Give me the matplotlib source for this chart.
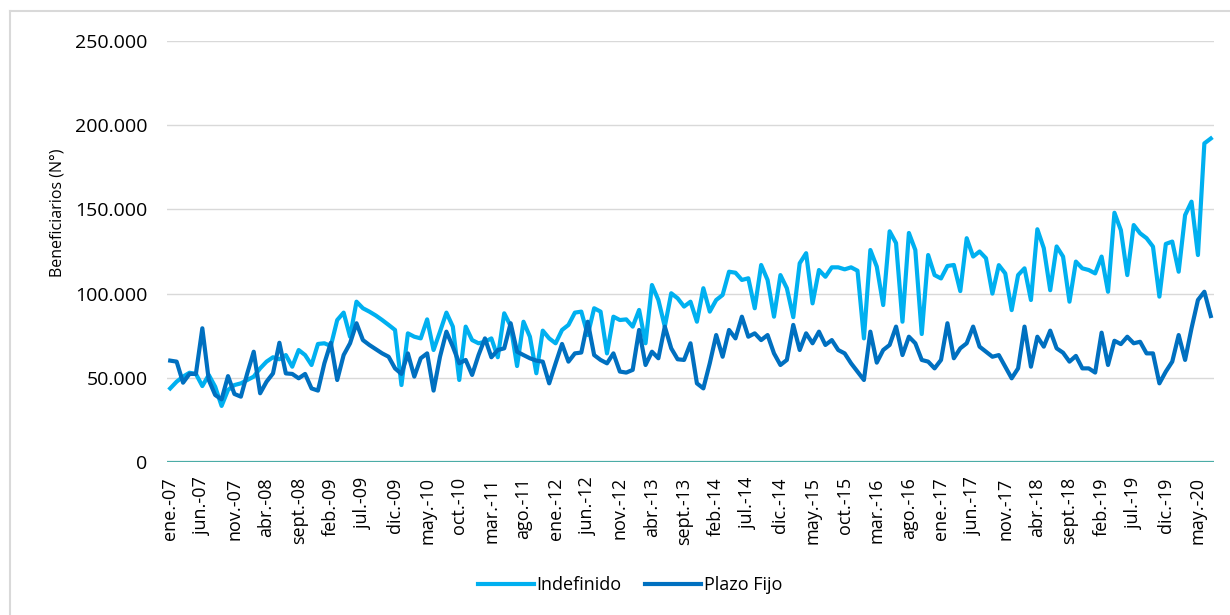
import matplotlib
matplotlib.use("Agg")
import matplotlib.pyplot as plt
from matplotlib.lines import Line2D
from matplotlib.ticker import FuncFormatter
import numpy as np

# ================= datos (miles de beneficiarios, mensual ene-07 .. jul-20) =================
indefinido = [
    43.7, 47.7, 50.7, 53.0, 52.3, 45.1, 51.7, 44.7, 33.3, 42.8, 45.7, 46.7,
    48.7, 50.7, 55.6, 59.6, 62.2, 61.0, 63.5, 56.6, 66.5, 63.5, 57.6, 70.1,
    70.5, 68.9, 84.3, 88.7, 74.4, 95.2, 91.3, 89.3, 87.0, 84.3, 81.4, 78.4,
    45.7, 76.4, 74.4, 73.4, 84.7, 66.5, 77.4, 88.7, 80.4, 48.7, 80.4, 72.4,
    70.5, 71.4, 73.4, 62.2, 88.3, 80.8, 57.0, 83.3, 74.4, 52.7, 78.0, 73.4,
    70.5, 78.4, 81.4, 88.7, 89.3, 75.4, 91.3, 89.3, 64.5, 86.3, 84.3, 84.7,
    80.4, 90.3, 70.5, 105.1, 96.2, 80.4, 100.2, 97.2, 92.3, 95.2, 83.3, 103.2,
    89.3, 96.2, 99.2, 113.0, 112.4, 108.1, 109.1, 91.3, 117.0, 108.1, 86.3, 111.0,
    103.2, 86.0, 118.0, 124.0, 94.2, 114.0, 110.0, 115.6, 115.6, 114.4, 115.6, 113.6,
    73.4, 125.9, 116.0, 93.2, 137.0, 130.0, 83.3, 136.0, 125.9, 76.0, 122.9, 111.0,
    109.0, 116.4, 117.0, 101.5, 132.9, 122.0, 125.0, 121.0, 100.0, 116.9, 112.0, 90.2,
    111.0, 115.0, 96.2, 138.2, 127.0, 102.0, 128.0, 122.0, 95.2, 119.0, 115.0, 114.0,
    112.0, 122.0, 101.1, 148.0, 137.7, 111.0, 140.7, 135.8, 132.9, 127.9, 98.2, 129.5,
    130.9, 113.0, 146.6, 154.6, 122.9, 189.2, 192.1,
]
plazo_fijo = [
    60.2, 59.6, 47.1, 52.3, 52.3, 79.4, 48.7, 39.8, 37.2, 51.0, 40.4, 38.8,
    52.7, 65.5, 40.8, 47.7, 52.6, 70.8, 52.6, 52.3, 49.7, 52.3, 43.7, 42.4,
    58.6, 70.8, 48.7, 63.5, 70.5, 82.4, 72.4, 69.5, 67.0, 64.5, 62.5, 55.6,
    52.3, 64.5, 50.7, 61.6, 64.5, 42.4, 62.5, 77.4, 68.5, 58.6, 60.6, 51.7,
    63.5, 73.4, 62.2, 66.5, 67.5, 82.4, 65.5, 63.5, 61.6, 60.2, 59.6, 46.7,
    58.6, 70.1, 59.6, 64.5, 65.0, 83.3, 63.5, 60.6, 58.6, 64.5, 53.7, 53.1,
    54.7, 78.4, 57.6, 65.5, 61.6, 80.4, 67.5, 61.0, 60.6, 70.5, 46.7, 43.7,
    58.6, 75.4, 62.5, 78.4, 73.4, 86.3, 74.4, 76.4, 72.4, 75.4, 64.5, 57.6,
    60.6, 81.4, 66.5, 76.4, 70.5, 77.4, 69.5, 72.4, 66.5, 64.5, 58.6, 53.7,
    48.7, 77.4, 59.0, 66.5, 69.5, 80.4, 63.5, 74.4, 70.5, 60.6, 59.6, 55.6,
    60.6, 82.4, 61.6, 67.5, 70.5, 80.4, 68.5, 65.5, 62.5, 63.5, 56.6, 49.7,
    55.6, 80.4, 56.6, 74.4, 68.5, 78.0, 67.5, 64.9, 59.6, 63.0, 55.6, 55.6,
    53.1, 76.8, 57.6, 72.0, 70.0, 74.4, 70.5, 71.4, 64.5, 64.5, 46.7, 53.7,
    59.6, 75.4, 60.6, 79.4, 96.2, 101.1, 86.7,
]
meses = ["ene.", "feb.", "mar.", "abr.", "may.", "jun.",
         "jul.", "ago.", "sept.", "oct.", "nov.", "dic."]
anio_inicio = 2007
paso_etiquetas = 5

# ================= figura =================
plt.rcParams['font.family'] = ['Open Sans', 'DejaVu Sans']

fig = plt.figure(figsize=(12.3, 6.15), dpi=100)
W, H = 1230, 615
ax = fig.add_axes([167 / W, 1 - 462 / H, (1214 - 167) / W, (462 - 41) / H])

n = len(indefinido)
x = np.arange(n)
ind = np.array(indefinido) * 1000
pf = np.array(plazo_fijo) * 1000

ax.plot(x, ind, color='#00B0F0', linewidth=3.0, label='Indefinido', zorder=3)
ax.plot(x, pf, color='#0070C0', linewidth=3.0, label='Plazo Fijo', zorder=4)

ax.set_xlim(-0.5, n - 0.5)
ax.set_ylim(0, 250000)
ax.set_yticks(np.arange(0, 250001, 50000))
ax.yaxis.set_major_formatter(FuncFormatter(lambda v, p: f"{int(v):,}".replace(",", ".")))

# etiquetas del eje x cada 5 meses
pos = list(range(0, n, paso_etiquetas))
etiquetas = [f"{meses[i % 12]}-{(anio_inicio + i // 12) % 100:02d}" for i in pos]
ax.set_xticks(pos)
ax.set_xticklabels(etiquetas, rotation=90)

ax.grid(axis='y', color='#d9d9d9', linewidth=1.0, zorder=0)
ax.axhline(0, color='#4BACA6', linewidth=1.6, zorder=2)
for s in ax.spines.values():
    s.set_visible(False)
ax.tick_params(axis='both', length=0, colors='#000000')
ax.tick_params(axis='y', pad=14, labelsize=14)
ax.tick_params(axis='x', pad=11, labelsize=13)

fig.text(57 / W, 1 - 213 / H, "Beneficiarios (N°)", rotation=90,
         ha='center', va='center', fontsize=11.5)

fig.legend(loc='center', bbox_to_anchor=(630 / W, 1 - 585 / H), ncol=2,
           frameon=False, fontsize=13, handlelength=3.1, handletextpad=0.15,
           columnspacing=1.3)

# borde exterior (solo visible arriba e izquierda)
fig.add_artist(Line2D([10 / W, 10 / W], [0, 1 - 11 / H], transform=fig.transFigure,
                      color='#d9d9d9', linewidth=1.5))
fig.add_artist(Line2D([10 / W, 1], [1 - 11 / H, 1 - 11 / H], transform=fig.transFigure,
                      color='#d9d9d9', linewidth=1.5))

fig.savefig("out.png", dpi=100, facecolor='white')
